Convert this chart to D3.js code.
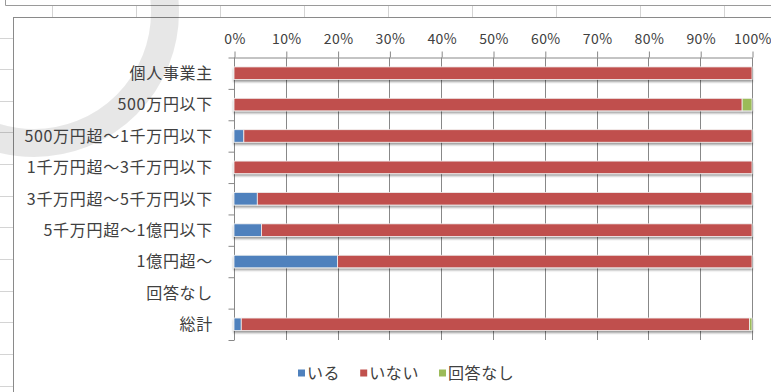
<!DOCTYPE html>
<html>
<head>
<meta charset="utf-8">
<script src="https://cdn.jsdelivr.net/npm/d3@7"></script>
<style>
  html, body { margin: 0; padding: 0; background: #fff; }
  svg { display: block; }
  text { font-family: "Noto Sans CJK JP", "Noto Sans", sans-serif; fill: #404040; }
</style>
</head>
<body>
<svg id="chart" width="771" height="392"></svg>
<script>
// ---- data ----
const categories = ["個人事業主", "500万円以下", "500万円超～1千万円以下", "1千万円超～3千万円以下",
  "3千万円超～5千万円以下", "5千万円超～1億円以下", "1億円超～", "回答なし", "総計"];
const seriesNames = ["いる", "いない", "回答なし"];
const valuesIru      = [0, 0, 1.9, 0, 4.5, 5.3, 20, 0, 1.4];
const valuesInai     = [100, 98.1, 98.1, 100, 95.5, 94.7, 80, 0, 98.1];
const valuesNoAnswer = [0, 1.9, 0, 0, 0, 0, 0, 0, 0.5];
const tickValues = [0, 10, 20, 30, 40, 50, 60, 70, 80, 90, 100];
const tickLabels = ["0%", "10%", "20%", "30%", "40%", "50%", "60%", "70%", "80%", "90%", "100%"];
const colors = ["#4f81bd", "#c0504d", "#9bbb59"];

const svg = d3.select("#chart");
const W = 771, H = 392;

// ---- spreadsheet background ----
const bg = svg.append("g");
bg.append("rect").attr("width", W).attr("height", H).attr("fill", "#fff");
for (let x = 51.5; x < W; x += 84) {
  bg.append("line").attr("x1", Math.round(x) + 0.5).attr("x2", Math.round(x) + 0.5)
    .attr("y1", 5).attr("y2", 17).attr("stroke", "#d4d4d4");
}
for (let y = 37.5; y < H; y += 31.65) {
  bg.append("line").attr("x1", 0).attr("x2", 13).attr("y1", Math.round(y) + 0.5).attr("y2", Math.round(y) + 0.5)
    .attr("stroke", "#d4d4d4");
}
bg.append("path").attr("d", "M5.5,0 V5.5 H771").attr("fill", "none").attr("stroke", "#9a9a9a");
bg.append("rect").attr("x", 13.5).attr("y", 17.5).attr("width", W).attr("height", H)
  .attr("fill", "#fff").attr("stroke", "#8a8a8a");

// ---- grey ring overlay ----
svg.append("circle").attr("cx", 34).attr("cy", 12).attr("r", 131)
  .attr("fill", "none").attr("stroke", "rgba(0,0,0,0.095)").attr("stroke-width", 28);

// ---- defs: shadow ----
const defs = svg.append("defs");
const f = defs.append("filter").attr("id", "shadow").attr("x", "-5%").attr("y", "-50%").attr("width", "110%").attr("height", "250%");
f.append("feDropShadow").attr("dx", 0).attr("dy", 2).attr("stdDeviation", 1.2)
  .attr("flood-color", "#000").attr("flood-opacity", 0.4);

// ---- scales ----
const x0 = 234, x1 = 752, yTop = 57.5, yBot = 340;
const x = d3.scaleLinear().domain([0, 100]).range([x0, x1]);
const y = d3.scaleBand().domain(categories).range([yTop, yBot]).paddingInner(0.6).paddingOuter(0.3);

const gridColor = "#888888";

svg.append("g").selectAll("line").data(tickValues).join("line")
  .attr("x1", d => Math.round(x(d)) + 0.5).attr("x2", d => Math.round(x(d)) + 0.5)
  .attr("y1", yTop).attr("y2", yBot)
  .attr("stroke", gridColor);

const topAxis = d3.axisTop(x).tickValues(tickValues).tickSize(6).tickPadding(8)
  .tickFormat((d, i) => tickLabels[i]);
const gTop = svg.append("g").attr("transform", `translate(0.5,${yTop})`).call(topAxis);
gTop.select(".domain").attr("stroke", gridColor).attr("d", `M${x0},0.5H${x1}`);
gTop.selectAll(".tick line").attr("stroke", gridColor);
gTop.selectAll(".tick text").attr("font-size", 14).attr("fill", "#404040")
  .style("font-family", '"Noto Sans CJK JP", sans-serif').attr("letter-spacing", 0.4);

const leftScale = d3.scalePoint().domain(d3.range(categories.length + 1)).range([yTop, yBot]);
const leftAxis = d3.axisLeft(leftScale).tickSize(6).tickFormat("");
const gLeft = svg.append("g").attr("transform", `translate(${x0 + 0.5},0)`).call(leftAxis);
gLeft.select(".domain").attr("stroke", gridColor).attr("d", `M0,${yTop}V${yBot}`);
gLeft.selectAll(".tick line").attr("stroke", gridColor);

svg.append("g").selectAll("text").data(categories).join("text")
  .attr("x", 213).attr("y", d => y(d) + y.bandwidth() / 2)
  .attr("dy", "0.36em").attr("text-anchor", "end")
  .attr("font-size", 16).attr("letter-spacing", 0.7)
  .text(d => d);

// ---- stacked bars ----
const table = categories.map((c, i) => ({
  cat: c, "いる": valuesIru[i], "いない": valuesInai[i], "回答なし": valuesNoAnswer[i]
}));
const stacked = d3.stack().keys(seriesNames)(table);

svg.append("g").attr("filter", "url(#shadow)")
  .selectAll("g").data(stacked).join("g")
  .attr("fill", (d, i) => colors[i])
  .selectAll("rect").data(d => d.filter(s => s[1] - s[0] > 0)).join("rect")
  .attr("x", d => x(d[0]))
  .attr("width", d => x(d[1]) - x(d[0]))
  .attr("y", d => y(d.data.cat))
  .attr("height", y.bandwidth())
  .attr("stroke", "#f2f2f2").attr("stroke-width", 0.8);

// ---- legend ----
const legend = svg.append("g").attr("transform", "translate(0,373)");
let lx = 298;
seriesNames.forEach((name, i) => {
  legend.append("rect").attr("x", lx).attr("y", -3.5).attr("width", 7).attr("height", 7).attr("fill", colors[i]);
  const t = legend.append("text").attr("x", lx + 9).attr("y", 0).attr("dy", "0.36em")
    .attr("font-size", 16).attr("letter-spacing", 0.6).text(name);
  lx += 9 + t.node().getComputedTextLength() + 20;
});
</script>
</body>
</html>
